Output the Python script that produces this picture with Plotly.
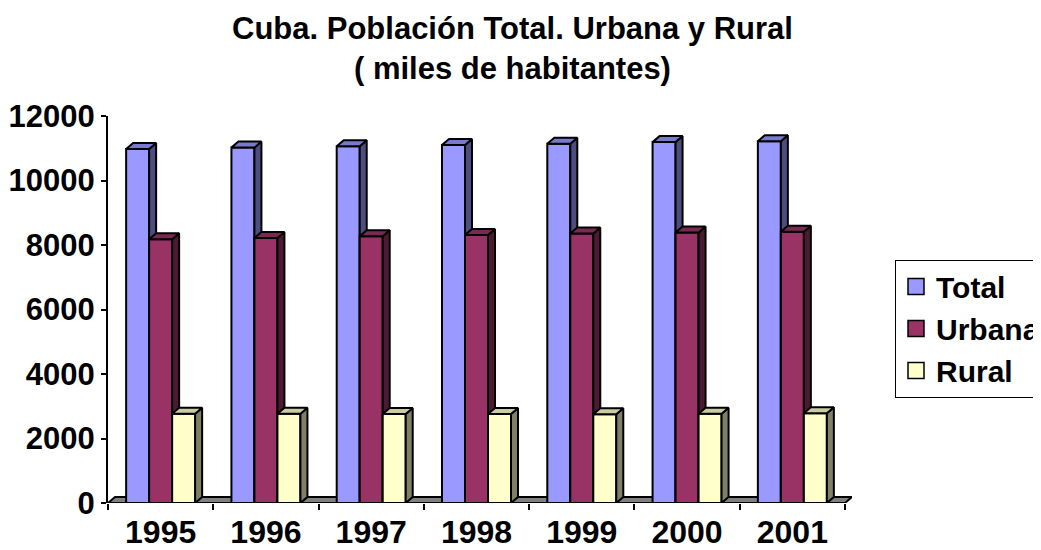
import plotly.graph_objects as go

# ---- data (miles de habitantes) ----
years = ['1995', '1996', '1997', '1998', '1999', '2000', '2001']
total = [10980, 11020, 11060, 11100, 11140, 11190, 11220]
urbana = [8180, 8220, 8270, 8310, 8360, 8390, 8410]
rural = [2770, 2770, 2760, 2760, 2750, 2770, 2780]
series_names = ['Total', 'Urbana', 'Rural']
series_values = [total, urbana, rural]
y_ticks = [0, 2000, 4000, 6000, 8000, 10000, 12000]

# ---- styles ----
front_cols = ['#9999FF', '#993366', '#FFFFCC']
side_cols = ['#4D4D80', '#4D1A33', '#808066']
top_cols = ['#7A7ACC', '#7A2952', '#CCCCA3']
FONT = 'Liberation Sans, Arial, sans-serif'
LW = 2

OFF = 8                      # default page body margin
W, H = 1041 - OFF, 550 - OFF
ml, mt = 108 - OFF, 116 - OFF
plot_bottom = 503 - OFF
mb = H - plot_bottom
ymax = y_ticks[-1]
n = len(years)
depth_px_x, depth_px_y = 7, 6
bar_px = 23

plot_h = H - mt - mb
unit_px = 737 / n                      # px per category
dx = depth_px_x / unit_px
dy = depth_px_y * ymax / plot_h
bw = bar_px / unit_px
xr = [-0.5, n - 0.5 + dx]
plot_w = (xr[1] - xr[0]) * unit_px
mr = W - ml - plot_w

fig = go.Figure()

# floor
fx = [-0.5, n - 0.5, n - 0.5 + dx, -0.5 + dx, -0.5]
fy = [0, 0, dy, dy, 0]
fig.add_trace(go.Scatter(x=fx, y=fy, mode='lines', fill='toself', fillcolor='#808080',
                         line=dict(color='black', width=LW), showlegend=False, hoverinfo='skip'))

for j, (name, vals) in enumerate(zip(series_names, series_values)):
    offs = (j - 1) * bw
    fxs, fys, sxs, sys_, txs, tys = [], [], [], [], [], []
    for i, v in enumerate(vals):
        x0 = i + offs - bw / 2
        x1 = x0 + bw
        fxs += [x0, x1, x1, x0, x0, None]
        fys += [0, 0, v, v, 0, None]
        sxs += [x1, x1 + dx, x1 + dx, x1, x1, None]
        sys_ += [0, dy, v + dy, v, 0, None]
        txs += [x0, x1, x1 + dx, x0 + dx, x0, None]
        tys += [v, v, v + dy, v + dy, v, None]
    for xs, ys, col in ((fxs, fys, front_cols[j]), (sxs, sys_, side_cols[j]), (txs, tys, top_cols[j])):
        fig.add_trace(go.Scatter(x=xs, y=ys, mode='lines', fill='toself', fillcolor=col,
                                 line=dict(color='black', width=LW), showlegend=False,
                                 hoverinfo='skip'))

# legend entries
for j, name in enumerate(series_names):
    fig.add_trace(go.Scatter(x=[None], y=[None], mode='markers', name=name,
                             marker=dict(symbol='square', size=17, color=front_cols[j],
                                         line=dict(color='black', width=1.5))))

fig.add_annotation(text='<b>Cuba. Población Total. Urbana y Rural<br>( miles de habitantes)</b>',
                   xref='paper', yref='paper', x=(512 - OFF - ml) / plot_w, xanchor='center',
                   y=1 + (mt - 1) / plot_h, yanchor='top', showarrow=False,
                   font=dict(size=31, family=FONT, color='black'))

fig.update_layout(
    width=W, height=H,
    margin=dict(l=ml, r=mr, t=mt, b=mb, autoexpand=False),
    paper_bgcolor='white', plot_bgcolor='white',
    font=dict(family=FONT, color='black'),
    legend=dict(x=(895 - OFF - ml) / plot_w, xanchor='left', y=(503 - 328.5) / plot_h,
                yanchor='middle', bordercolor='black', borderwidth=1, bgcolor='white',
                font=dict(size=30, weight='bold', family=FONT), tracegroupgap=0,
                itemsizing='trace'),
    showlegend=True,
)
fig.update_xaxes(range=xr, showgrid=False, zeroline=False, showline=False, automargin=False,
                 tickmode='array', tickvals=list(range(n)), ticktext=years,
                 ticks='', ticklabelstandoff=7,
                 tickfont=dict(size=32, weight='bold', family=FONT),
                 minor=dict(tickmode='array', tickvals=[k - 0.5 for k in range(n + 1)],
                            ticks='outside', ticklen=6, tickcolor='black', tickwidth=LW))
fig.update_yaxes(range=[0, ymax], showgrid=False, zeroline=False, showline=True, automargin=False,
                 linecolor='black', linewidth=LW, ticks='outside', ticklen=5,
                 tickcolor='black', tickwidth=LW, tickmode='array',
                 tickvals=y_ticks, ticktext=[str(t) for t in y_ticks],
                 tickfont=dict(size=31, weight='bold', family=FONT))

fig.write_html('out.html')
